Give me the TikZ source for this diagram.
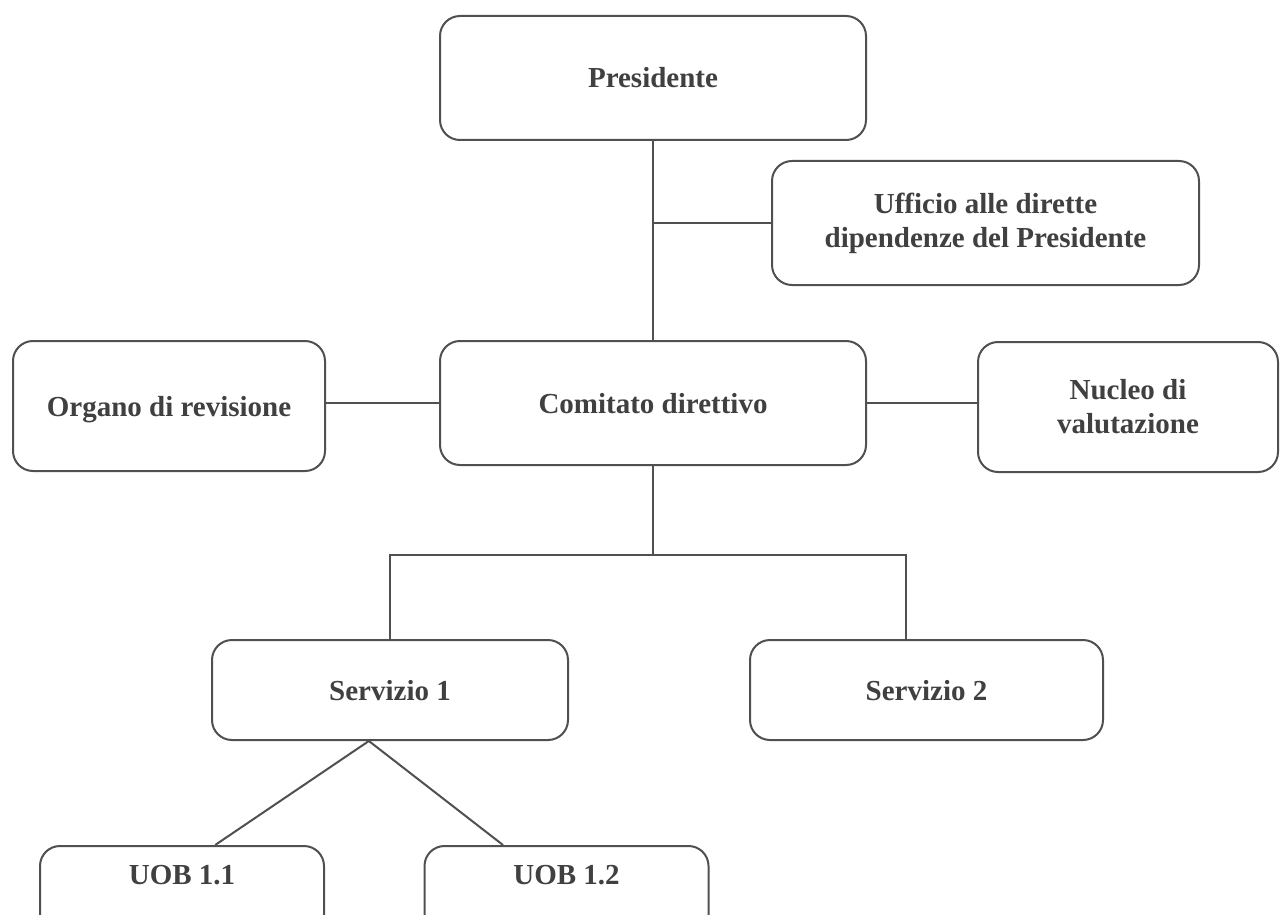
\documentclass[tikz,border=0pt]{standalone}
\usepackage{fontspec}
\setmainfont{Liberation Serif}
\usetikzlibrary{calc}
\definecolor{linegray}{HTML}{505050}
\definecolor{textgray}{HTML}{404040}
\tikzset{
  x=0.5pt, y=-0.5pt,
  orgbox/.style={draw=linegray, line width=1pt, rounded corners=10pt, fill=white,
    inner sep=0pt, align=center, text=textgray,
    font=\fontsize{14.5pt}{17pt}\selectfont\bfseries},
  oneline/.style={text height=13pt, text depth=3pt},
  conn/.style={draw=linegray, line width=1pt}
}
\begin{document}
\begin{tikzpicture}
\useasboundingbox (0,0) rectangle (1280,915);
\clip (0,0) rectangle (1280,915);
\fill[white] (0,0) rectangle (1280,915);

\node[orgbox, oneline, minimum width=213pt, minimum height=62pt] (pres) at (653,78) {Presidente};
\node[orgbox, minimum width=213.5pt, minimum height=62pt] (uff) at (985.5,223) {Ufficio alle dirette\\dipendenze del Presidente};
\node[orgbox, oneline, minimum width=213pt, minimum height=62pt] (com) at (653,403) {Comitato direttivo};
\node[orgbox, oneline, minimum width=156pt, minimum height=65pt] (org) at (169,406) {Organo di revisione};
\node[orgbox, minimum width=150pt, minimum height=65pt] (nuc) at (1128,407) {Nucleo di\\valutazione};
\node[orgbox, oneline, minimum width=178pt, minimum height=50pt] (s1) at (390,690) {Servizio 1};
\node[orgbox, oneline, minimum width=176.5pt, minimum height=50pt] (s2) at (926.5,690) {Servizio 2};
\node[orgbox, anchor=north, minimum width=142pt, text height=19pt, text depth=31pt] (u1) at (182,845) {UOB 1.1};
\node[orgbox, anchor=north, minimum width=142pt, text height=19pt, text depth=31pt] (u2) at (566.5,845) {UOB 1.2};

\coordinate (j) at ($(com.south)+(0,89)$);
\coordinate (s2top) at ($(s2.north west)!0.4435!(s2.north east)$);
\coordinate (apex) at ($(s1.south west)!0.441!(s1.south east)$);
\coordinate (u1top) at ($(u1.north west)!0.616!(u1.north east)$);
\coordinate (u2top) at ($(u2.north west)!0.278!(u2.north east)$);

\draw[conn] (pres.south) -- (com.north);
\draw[conn] (uff.west) -- (uff.west -| pres.south);
\draw[conn] (com.west) -- (com.west -| org.east);
\draw[conn] (com.east) -- (com.east -| nuc.west);
\draw[conn] (com.south) -- (j);
\draw[conn] (s1.north) -- (s1.north |- j) -- (s2top |- j) -- (s2top);
\draw[conn] (u1top) -- (apex) -- (u2top);
\end{tikzpicture}
\end{document}
